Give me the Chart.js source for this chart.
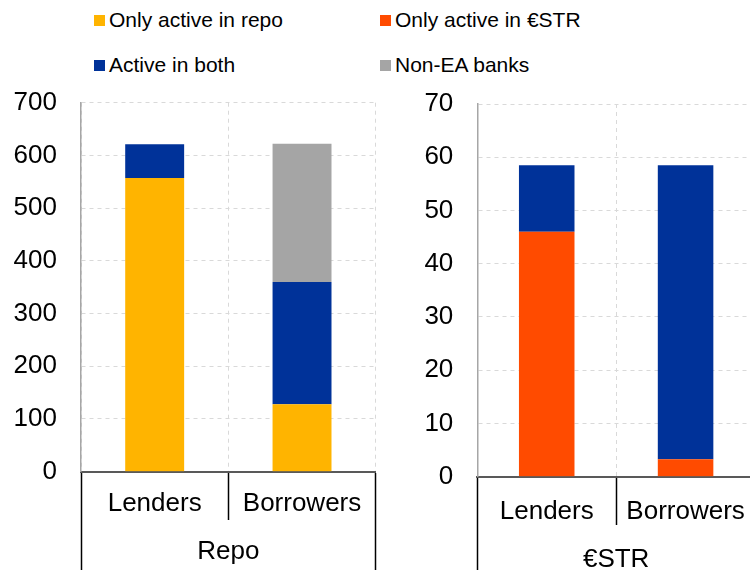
<!DOCTYPE html>
<html>
<head>
<meta charset="utf-8">
<script src="https://cdn.jsdelivr.net/npm/chart.js@4.4.1/dist/chart.umd.min.js"></script>
<style>
  html, body { margin: 0; padding: 0; background: #fff; }
  body { width: 750px; height: 570px; overflow: hidden; position: relative; font-family: "Liberation Sans", Arial, sans-serif; }
  .panel { position: absolute; }
  #repoBox { left: 0; top: 80px; width: 380px; height: 490px; }
  #estrBox { left: 390px; top: 80px; width: 370px; height: 500px; }
  .legend { position: absolute; font-size: 21px; color: #000; white-space: nowrap; line-height: 24px; }
  .legend span.sw { display: inline-block; width: 11px; height: 11px; margin-right: 4px; vertical-align: 1px; }
</style>
</head>
<body>

<div class="legend" style="left:94px; top:8px;"><span class="sw" style="background:#FFB400"></span>Only active in repo</div>
<div class="legend" style="left:94px; top:53px;"><span class="sw" style="background:#003299"></span>Active in both</div>
<div class="legend" style="left:380px; top:8px;"><span class="sw" style="background:#FF4B00"></span>Only active in €STR</div>
<div class="legend" style="left:380px; top:53px;"><span class="sw" style="background:#A5A5A5"></span>Non-EA banks</div>

<div class="panel" id="repoBox"><canvas id="repoChart"></canvas></div>
<div class="panel" id="estrBox"><canvas id="estrChart"></canvas></div>

<script>
// data
const categories = ['Lenders', 'Borrowers'];

const repoOnly = [557, 128];
const repoBoth = [64, 232];
const repoNonEA = [0, 262];
const repoGroup = ['Repo'];
const repoTicks = { min: 0, max: 700, step: 100 };

const estrOnly = [46, 3.3];
const estrBoth = [12.5, 55.2];
const estrGroup = ['€STR'];
const estrTicks = { min: 0, max: 70, step: 10 };

const FONT = { family: '"Liberation Sans", Arial, sans-serif', size: 26 };

function buildOptions(group, yTicks, cfg) {
    return {
        responsive: true,
        maintainAspectRatio: false,
        animation: false,
        layout: { padding: { top: cfg.padTop, right: cfg.padRight, left: 0, bottom: 0 } },
        plugins: { legend: { display: false }, tooltip: { enabled: false } },
        datasets: { bar: { barPercentage: 0.4, categoryPercentage: 1 } },
        scales: {
            x: {
                stacked: true,
                offset: true,
                grid: {
                    offset: true,
                    color: '#d9d9d9',
                    lineWidth: 1,
                    tickColor: '#000',
                    tickLength: cfg.xHeight,
                    tickWidth: 1.5,
                    tickBorderDash: []
                },
                border: { display: true, color: '#595959', width: 2, dash: [4, 4] },
                ticks: { color: '#000', font: FONT, padding: cfg.xPad, maxRotation: 0, autoSkip: false },
                afterFit: s => { s.height = cfg.xHeight; }
            },
            x2: {
                type: 'category',
                labels: group,
                position: 'bottom',
                offset: true,
                grid: {
                    offset: true,
                    drawOnChartArea: false,
                    tickColor: '#000',
                    tickLength: cfg.x2Height,
                    tickWidth: 1.5
                },
                border: { display: false },
                ticks: { color: '#000', font: FONT, padding: cfg.x2Pad, maxRotation: 0 },
                afterFit: s => { s.height = cfg.x2Height; }
            },
            y: {
                stacked: true,
                min: yTicks.min,
                max: yTicks.max,
                grid: { color: '#d9d9d9', lineWidth: 1, drawTicks: false },
                border: { display: true, color: '#a6a6a6', width: 1.5, dash: [4, 4] },
                ticks: { stepSize: yTicks.step, color: '#000', font: FONT, padding: 24 },
                afterFit: s => {
                    s.width = cfg.yWidth;
                    // the tick padding would otherwise push the plot down
                    s.paddingTop = 0;
                    s.paddingBottom = 0;
                }
            }
        }
    };
}

new Chart(document.getElementById('repoChart'), {
    type: 'bar',
    data: {
        labels: categories,
        datasets: [
            { label: 'Only active in repo', data: repoOnly, backgroundColor: '#FFB400' },
            { label: 'Active in both', data: repoBoth, backgroundColor: '#003299' },
            { label: 'Non-EA banks', data: repoNonEA, backgroundColor: '#A5A5A5' }
        ]
    },
    options: buildOptions(repoGroup, repoTicks, {
        padTop: 22.7, padRight: 4.3, yWidth: 81,
        xHeight: 48.3, xPad: -32, x2Height: 50, x2Pad: -34
    })
});

new Chart(document.getElementById('estrChart'), {
    type: 'bar',
    data: {
        labels: categories,
        datasets: [
            { label: 'Only active in €STR', data: estrOnly, backgroundColor: '#FF4B00' },
            { label: 'Active in both', data: estrBoth, backgroundColor: '#003299' }
        ]
    },
    options: buildOptions(estrGroup, estrTicks, {
        padTop: 24, padRight: 5, yWidth: 87.3,
        xHeight: 48.3, xPad: -29, x2Height: 55, x2Pad: -36
    })
});
</script>
</body>
</html>
